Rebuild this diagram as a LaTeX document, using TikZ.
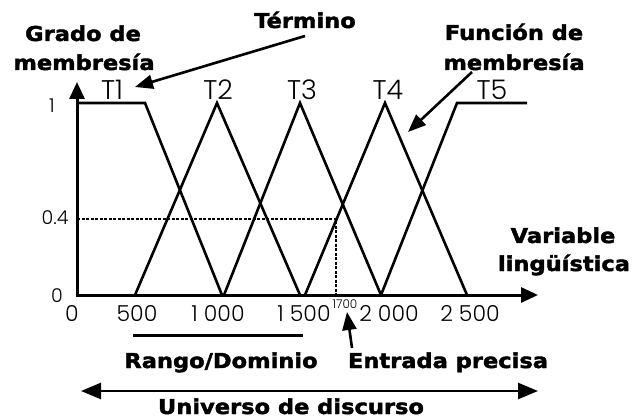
\documentclass[tikz,border=0pt]{standalone}
\usepackage{fontspec}
\usetikzlibrary{arrows.meta}
\newfontfamily\heavyfont[FakeStretch=1.1,FakeBold=2]{DejaVu Sans Bold}
\newfontfamily\thinfont{Poppins Light}
\begin{document}
\begin{tikzpicture}[x=1pt,y=-1pt,
  heavy/.style={font=\heavyfont\fontsize{20.5}{24}\selectfont, inner sep=0pt, anchor=base},
  tick/.style={font=\thinfont\fontsize{22}{26}\selectfont, inner sep=0pt, anchor=base},
  tlabel/.style={font=\thinfont\fontsize{27}{30}\selectfont, inner sep=0pt, anchor=base},
  ylab/.style={font=\thinfont\fontsize{19}{22}\selectfont, inner sep=0pt, anchor=base},
  tinylab/.style={font=\thinfont\fontsize{12}{14}\selectfont, inner sep=0pt, anchor=base},
  axisline/.style={line width=3pt, -{Triangle[length=17pt,width=15pt]}},
  mf/.style={line width=2.6pt, line join=miter},
  guide/.style={line width=1.5pt, dash pattern=on 3pt off 1.5pt},
  pointer/.style={line width=2.6pt, -{Triangle[length=18pt,width=14pt]}},
  spanarrow/.style={line width=2.6pt, {Triangle[length=20pt,width=16pt]}-{Triangle[length=20pt,width=16pt]}},
  rangeline/.style={line width=3pt},
]
\useasboundingbox (0,0) rectangle (633,420);

% axes
\coordinate (O) at (77,295);
\coordinate (Obot) at (77,296.5);
\coordinate (Oleft) at (75.5,295);
\coordinate (Ytip) at (77,82);
\coordinate (Xtip) at (538,295);
\draw[axisline] (Obot) -- (Ytip);
\draw[axisline] (Oleft) -- (Xtip);

% membership functions
\coordinate (t1a) at (77,103);
\coordinate (t1b) at (145,103);
\coordinate (t1c) at (222,295);
\coordinate (t2a) at (135,295);
\coordinate (t2b) at (217,103);
\coordinate (t2c) at (300,295);
\coordinate (t3a) at (224,295);
\coordinate (t3b) at (300,103);
\coordinate (t3c) at (381,295);
\coordinate (t4a) at (305,295);
\coordinate (t4b) at (385,103);
\coordinate (t4c) at (467,295);
\coordinate (t5a) at (381,295);
\coordinate (t5b) at (457,103);
\coordinate (t5c) at (527,103);
\draw[mf] (t1a) -- (t1b) -- (t1c);
\draw[mf] (t2a) -- (t2b) -- (t2c);
\draw[mf] (t3a) -- (t3b) -- (t3c);
\draw[mf] (t4a) -- (t4b) -- (t4c);
\draw[mf] (t5a) -- (t5b) -- (t5c);

% dashed guide for 1700 -> 0.4
\coordinate (g1) at (77,219);
\coordinate (g2) at (336,219);
\coordinate (g3) at (336,295);
\draw[guide] (g1) -- (g2) -- (g3);

% term labels
\node[tlabel] (T1) at (112,100) {T1};
\node[tlabel] (T2) at (218,100) {T2};
\node[tlabel] (T3) at (302,100) {T3};
\node[tlabel] (T4) at (388,100) {T4};
\node[tlabel] (T5) at (492,100) {T5};

% y labels
\node[ylab] (y1) at (52,113) {1};
\node[ylab] (y04) at (55,225) {0.4};
\node[ylab] (y0) at (57,302) {0};

% x tick labels
\node[tick] (x0) at (72,321) {0};
\node[tick] (x500) at (137,321) {500};
\node[tick] (x1000) at (218,321) {1~000};
\node[tick] (x1500) at (304,321) {1~500};
\node[tinylab] (x1700) at (345,308) {1700};
\node[tick] (x2000) at (389,321) {2~000};
\node[tick] (x2500) at (470,321) {2~500};

% bold labels
\node[heavy] (grado1) at (83,41) {Grado de};
\node[heavy] (grado2) at (84,70) {membresía};
\node[heavy] (termino) at (305,28) {Término};
\node[heavy] (func1) at (514,40) {Función de};
\node[heavy] (func2) at (514,70) {membresía};
\node[heavy] (var1) at (563,243) {Variable};
\node[heavy] (var2) at (564,271) {lingüística};
\node[heavy] (rango) at (221,368) {Rango/Dominio};
\node[heavy] (entrada) at (448,368) {Entrada precisa};
\node[heavy] (universo) at (291,414) {Universo de discurso};

% pointers
\coordinate (termTail) at (305,36);
\coordinate (termTip) at (135,87);
\draw[pointer] (termTail) -- (termTip);
\coordinate (funcTail) at (472,72);
\coordinate (funcTip) at (408,132);
\draw[pointer] (funcTail) -- (funcTip);
\coordinate (entTail) at (352,348);
\coordinate (entTip) at (347,312);
\draw[pointer] (entTail) -- (entTip);

% range and universe
\coordinate (r1) at (133,335);
\coordinate (r2) at (303,335);
\draw[rangeline] (r1) -- (r2);
\coordinate (u1) at (81,391);
\coordinate (u2) at (538,391);
\draw[spanarrow] (u1) -- (u2);
\end{tikzpicture}
\end{document}
